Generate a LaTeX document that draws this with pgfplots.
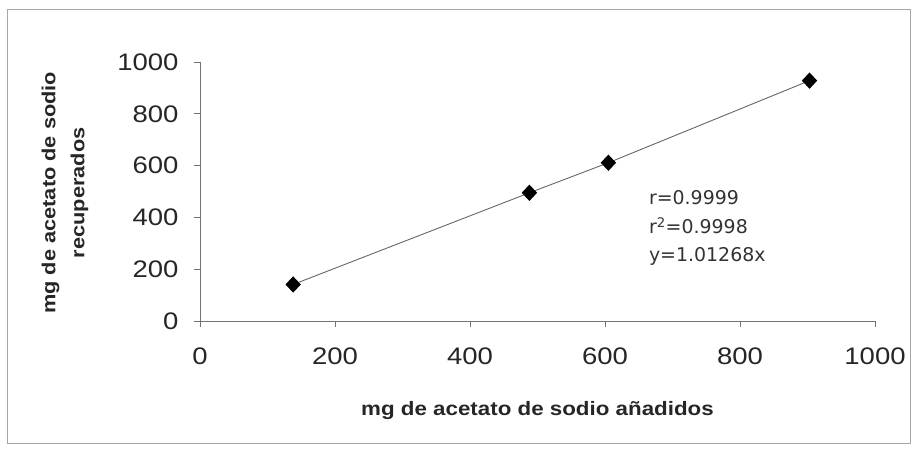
\documentclass[border=0pt]{standalone}
\usepackage{fontspec}
\setmainfont{Liberation Sans}[FakeStretch=1.15]
\newfontfamily\notefont{DejaVu Sans}
\usepackage{pgfplots}
\pgfplotsset{compat=1.18}
\begin{document}
\begin{tikzpicture}[x=1bp,y=1bp]
\useasboundingbox (-200,-129) rectangle (719,321);
\draw[black!35, line width=1bp] (-192,-123) rectangle (710,311);
\begin{axis}[
  at={(0,0)}, anchor=south west,
  width=675bp, height=259bp, scale only axis,
  xmin=0, xmax=1000, ymin=0, ymax=1000,
  axis lines*=left,
  axis line style={black!55, line width=0.8bp},
  xtick={0,200,400,600,800,1000},
  ytick={0,200,400,600,800,1000},
  tick align=outside,
  major tick length=6bp,
  tick style={black!55, line width=0.8bp},
  /pgf/number format/assume math mode=true,
  /pgf/number format/1000 sep={},
  tick label style={font=\fontsize{24}{24}\selectfont, text=black!85},
  xticklabel style={yshift=-17bp},
  yticklabel style={xshift=-12bp},
  clip=false,
]
\addplot[black!60, line width=0.9bp, mark=diamond*, mark size=7.5bp, mark options={black, fill=black, xscale=1.25}]
  coordinates {(138,141) (488,495) (605,611) (903,928)};
\node[anchor=base west, font=\notefont\fontsize{19}{19}\selectfont, text=black!80] at (axis cs:660,448) {r=0.9999};
\node[anchor=base west, font=\notefont\fontsize{19}{19}\selectfont, text=black!80] at (axis cs:660,336) {r\textsuperscript{2}=0.9998};
\node[anchor=base west, font=\notefont\fontsize{19}{19}\selectfont, text=black!80] at (axis cs:660,228) {y=1.01268x};
\node[anchor=center, font=\fontsize{19.5}{30}\selectfont\bfseries, text=black!85] at (axis cs:500,-344) {mg de acetato de sodio añadidos};
\node[anchor=center, rotate=90, align=center, font=\fontsize{19}{29}\selectfont\bfseries, text=black!85] at (axis cs:-200,495) {mg de acetato de sodio\\recuperados};
\end{axis}
\end{tikzpicture}
\end{document}
